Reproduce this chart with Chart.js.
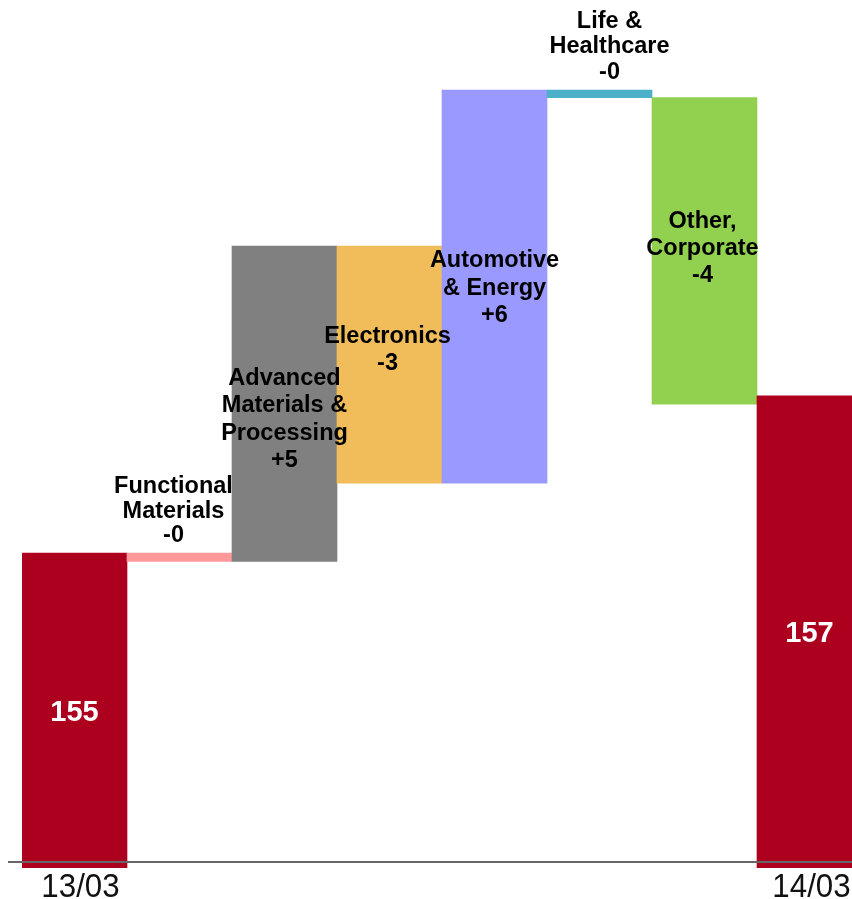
<!DOCTYPE html>
<html>
<head>
<meta charset="utf-8">
<title>Bridge 13/03 - 14/03</title>
<script src="https://cdn.jsdelivr.net/npm/chart.js@4/dist/chart.umd.min.js"></script>
<style>
  html, body { margin: 0; padding: 0; background: #fff; overflow: hidden; }
  #wrap { width: 870px; height: 899px; }
</style>
</head>
<body>
<div id="wrap"><canvas id="chart-bridge" width="870" height="899"></canvas></div>
<script>
// categories, first and last are the period totals
const categories = ["13/03", "Functional Materials", "Advanced Materials & Processing", "Electronics",
  "Automotive & Energy", "Life & Healthcare", "Other, Corporate", "14/03"];
const labelLines = [[], ["Functional", "Materials"], ["Advanced", "Materials &", "Processing"], ["Electronics"],
  ["Automotive", "& Energy"], ["Life &", "Healthcare"], ["Other,", "Corporate"], []];

const startValue = 154.91;
const deltas = [-0.12, 4.51, -3.39, 5.62, -0.11, -4.38];
const endValue = 157.16;

const barColors = ["#ad001e", "#ff9999", "#808080", "#f0bd5a", "#9999ff", "#4bb0c8", "#92d050", "#ad001e"];

// broken value axis (starts well above zero)
const Y_MIN = 150.41;
const Y_MAX = 162.53;
const AXIS_BASE = 150.5;

// label placement per bar: above thin bars, inside the others
const labelStyle = [
  null,
  { pos: "above", dx: -6, lineH: 24.5 },
  { pos: "inside", dx: 0, dy: 14, lineH: 27.5 },
  { pos: "inside", dx: -2, dy: -16, lineH: 27 },
  { pos: "inside", dx: 0, dy: 0, lineH: 27.5 },
  { pos: "above", dx: 10, lineH: 25.5 },
  { pos: "inside", dx: -2, dy: -4, lineH: 27 },
  null,
];

const LABEL_FONT = "bold 23.5px 'Liberation Sans', Arial, sans-serif";
const TOTAL_FONT = "bold 29px 'Liberation Sans', Arial, sans-serif";
const DATE_FONT = "34px 'Liberation Sans', Arial, sans-serif";
const DATE_SQUEEZE = 0.92; // condensed look for the period labels

document.addEventListener("DOMContentLoaded", () => {
  renderBridge();
});

/** floating ranges [low, high] for each bar */
function buildRanges() {
  const ranges = [[Y_MIN, startValue]];
  let run = startValue;
  deltas.forEach((d) => {
    const next = run + d;
    ranges.push([Math.min(run, next), Math.max(run, next)]);
    run = next;
  });
  ranges.push([Y_MIN, endValue]);
  return ranges;
}

function fmtDelta(v) {
  const sign = v < 0 ? "-" : "+";
  return sign + Math.round(Math.abs(v));
}

// axis line, segment labels, totals and the two dates
const bridgeLabels = {
  id: "bridgeLabels",
  afterDatasetsDraw(chart) {
    const { ctx, chartArea } = chart;
    const xs = chart.scales.x;
    const ys = chart.scales.y;
    const meta = chart.getDatasetMeta(0);

    // baseline
    const yBase = Math.round(ys.getPixelForValue(AXIS_BASE));
    ctx.save();
    ctx.strokeStyle = "#666666";
    ctx.lineWidth = 2;
    ctx.beginPath();
    ctx.moveTo(chartArea.left - 14, yBase);
    ctx.lineTo(chart.width, yBase);
    ctx.stroke();

    ctx.textAlign = "center";
    ctx.textBaseline = "alphabetic";

    meta.data.forEach((bar, i) => {
      const top = Math.min(bar.y, bar.base);
      const bottom = Math.max(bar.y, bar.base);
      const cx = xs.getPixelForValue(i);

      if (i === 0 || i === categories.length - 1) {
        // totals: white, centred in the visible bar
        const v = i === 0 ? startValue : endValue;
        ctx.font = TOTAL_FONT;
        ctx.fillStyle = "#ffffff";
        ctx.fillText(String(Math.round(v)), cx, (top + chartArea.bottom) / 2 + 10);

        ctx.save();
        ctx.font = DATE_FONT;
        ctx.fillStyle = "#111111";
        ctx.translate(cx + (i === 0 ? 6 : 2), chartArea.bottom + 29);
        ctx.scale(DATE_SQUEEZE, 1);
        ctx.fillText(categories[i], 0, 0);
        ctx.restore();
        return;
      }

      const st = labelStyle[i];
      const lines = labelLines[i].concat([fmtDelta(deltas[i - 1])]);
      const n = lines.length;
      ctx.font = LABEL_FONT;
      ctx.fillStyle = "#000000";

      if (st.pos === "above") {
        const lastBase = top - 11;
        lines.forEach((t, k) => {
          ctx.fillText(t, cx + st.dx, lastBase - (n - 1 - k) * st.lineH);
        });
      } else {
        const cy = (top + bottom) / 2 + st.dy;
        lines.forEach((t, k) => {
          ctx.fillText(t, cx + st.dx, cy + (k - (n - 1) / 2) * st.lineH + 8);
        });
      }
    });
    ctx.restore();
  },
};

function renderBridge() {
  const canvas = document.getElementById("chart-bridge");
  if (!canvas) return;

  new Chart(canvas.getContext("2d"), {
    type: "bar",
    data: {
      labels: categories,
      datasets: [
        {
          data: buildRanges(),
          backgroundColor: barColors,
          borderWidth: 0,
          barPercentage: 1,
          categoryPercentage: 1,
        },
      ],
    },
    options: {
      responsive: false,
      animation: false,
      layout: { padding: { left: 22, right: 8, top: 20, bottom: 31 } },
      scales: {
        x: { display: false },
        y: { display: false, min: Y_MIN, max: Y_MAX },
      },
      plugins: {
        legend: { display: false },
        tooltip: { enabled: false },
      },
    },
    plugins: [bridgeLabels],
  });
}
</script>
</body>
</html>
